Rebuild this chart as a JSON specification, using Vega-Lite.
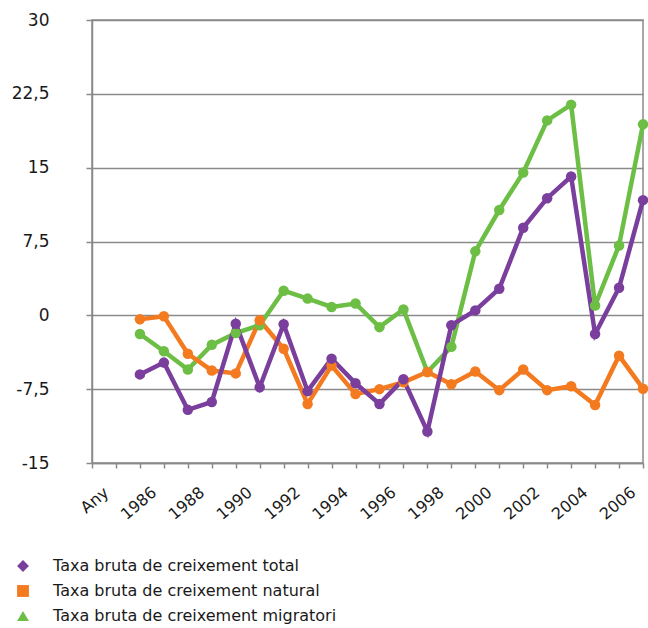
{
  "$schema": "https://vega.github.io/schema/vega-lite/v6.json",
  "autosize": {"type": "none"},
  "width": 551,
  "height": 443,
  "padding": {"left": 92, "top": 20, "right": 5, "bottom": 165},
  "background": "white",
  "config": {
    "font": "DejaVu Sans",
    "view": {"stroke": "#8a8a8a", "strokeWidth": 1.5},
    "axis": {"labelFont": "DejaVu Sans", "labelColor": "#1a1a1a", "domainColor": "#8a8a8a", "tickColor": "#8a8a8a", "domainWidth": 1.5, "tickWidth": 1.5}
  },
  "data": {"values": [
    {"year": 1985, "serie": "Taxa bruta de creixement migratori", "v": -1.9},
    {"year": 1986, "serie": "Taxa bruta de creixement migratori", "v": -3.65},
    {"year": 1987, "serie": "Taxa bruta de creixement migratori", "v": -5.5},
    {"year": 1988, "serie": "Taxa bruta de creixement migratori", "v": -3.0},
    {"year": 1989, "serie": "Taxa bruta de creixement migratori", "v": -1.8},
    {"year": 1990, "serie": "Taxa bruta de creixement migratori", "v": -1.0},
    {"year": 1991, "serie": "Taxa bruta de creixement migratori", "v": 2.5},
    {"year": 1992, "serie": "Taxa bruta de creixement migratori", "v": 1.7},
    {"year": 1993, "serie": "Taxa bruta de creixement migratori", "v": 0.85},
    {"year": 1994, "serie": "Taxa bruta de creixement migratori", "v": 1.2},
    {"year": 1995, "serie": "Taxa bruta de creixement migratori", "v": -1.2},
    {"year": 1996, "serie": "Taxa bruta de creixement migratori", "v": 0.6},
    {"year": 1997, "serie": "Taxa bruta de creixement migratori", "v": -5.75},
    {"year": 1998, "serie": "Taxa bruta de creixement migratori", "v": -3.2},
    {"year": 1999, "serie": "Taxa bruta de creixement migratori", "v": 6.5},
    {"year": 2000, "serie": "Taxa bruta de creixement migratori", "v": 10.7},
    {"year": 2001, "serie": "Taxa bruta de creixement migratori", "v": 14.5},
    {"year": 2002, "serie": "Taxa bruta de creixement migratori", "v": 19.8},
    {"year": 2003, "serie": "Taxa bruta de creixement migratori", "v": 21.4},
    {"year": 2004, "serie": "Taxa bruta de creixement migratori", "v": 1.0},
    {"year": 2005, "serie": "Taxa bruta de creixement migratori", "v": 7.1},
    {"year": 2006, "serie": "Taxa bruta de creixement migratori", "v": 19.4},
    {"year": 1985, "serie": "Taxa bruta de creixement natural", "v": -0.4},
    {"year": 1986, "serie": "Taxa bruta de creixement natural", "v": -0.1},
    {"year": 1987, "serie": "Taxa bruta de creixement natural", "v": -3.9},
    {"year": 1988, "serie": "Taxa bruta de creixement natural", "v": -5.6},
    {"year": 1989, "serie": "Taxa bruta de creixement natural", "v": -5.9},
    {"year": 1990, "serie": "Taxa bruta de creixement natural", "v": -0.5},
    {"year": 1991, "serie": "Taxa bruta de creixement natural", "v": -3.4},
    {"year": 1992, "serie": "Taxa bruta de creixement natural", "v": -9.0},
    {"year": 1993, "serie": "Taxa bruta de creixement natural", "v": -5.1},
    {"year": 1994, "serie": "Taxa bruta de creixement natural", "v": -8.0},
    {"year": 1995, "serie": "Taxa bruta de creixement natural", "v": -7.5},
    {"year": 1996, "serie": "Taxa bruta de creixement natural", "v": -6.8},
    {"year": 1997, "serie": "Taxa bruta de creixement natural", "v": -5.75},
    {"year": 1998, "serie": "Taxa bruta de creixement natural", "v": -7.0},
    {"year": 1999, "serie": "Taxa bruta de creixement natural", "v": -5.7},
    {"year": 2000, "serie": "Taxa bruta de creixement natural", "v": -7.6},
    {"year": 2001, "serie": "Taxa bruta de creixement natural", "v": -5.5},
    {"year": 2002, "serie": "Taxa bruta de creixement natural", "v": -7.6},
    {"year": 2003, "serie": "Taxa bruta de creixement natural", "v": -7.2},
    {"year": 2004, "serie": "Taxa bruta de creixement natural", "v": -9.1},
    {"year": 2005, "serie": "Taxa bruta de creixement natural", "v": -4.1},
    {"year": 2006, "serie": "Taxa bruta de creixement natural", "v": -7.45},
    {"year": 1985, "serie": "Taxa bruta de creixement total", "v": -6.0},
    {"year": 1986, "serie": "Taxa bruta de creixement total", "v": -4.8},
    {"year": 1987, "serie": "Taxa bruta de creixement total", "v": -9.6},
    {"year": 1988, "serie": "Taxa bruta de creixement total", "v": -8.8},
    {"year": 1989, "serie": "Taxa bruta de creixement total", "v": -0.85},
    {"year": 1990, "serie": "Taxa bruta de creixement total", "v": -7.3},
    {"year": 1991, "serie": "Taxa bruta de creixement total", "v": -0.9},
    {"year": 1992, "serie": "Taxa bruta de creixement total", "v": -7.7},
    {"year": 1993, "serie": "Taxa bruta de creixement total", "v": -4.4},
    {"year": 1994, "serie": "Taxa bruta de creixement total", "v": -6.9},
    {"year": 1995, "serie": "Taxa bruta de creixement total", "v": -9.0},
    {"year": 1996, "serie": "Taxa bruta de creixement total", "v": -6.5},
    {"year": 1997, "serie": "Taxa bruta de creixement total", "v": -11.8},
    {"year": 1998, "serie": "Taxa bruta de creixement total", "v": -1.0},
    {"year": 1999, "serie": "Taxa bruta de creixement total", "v": 0.5},
    {"year": 2000, "serie": "Taxa bruta de creixement total", "v": 2.7},
    {"year": 2001, "serie": "Taxa bruta de creixement total", "v": 8.9},
    {"year": 2002, "serie": "Taxa bruta de creixement total", "v": 11.9},
    {"year": 2003, "serie": "Taxa bruta de creixement total", "v": 14.1},
    {"year": 2004, "serie": "Taxa bruta de creixement total", "v": -1.9},
    {"year": 2005, "serie": "Taxa bruta de creixement total", "v": 2.8},
    {"year": 2006, "serie": "Taxa bruta de creixement total", "v": 11.7}
  ]},
  "encoding": {
    "x": {
      "field": "year", "type": "quantitative",
      "scale": {"domain": [1983, 2006], "nice": false, "zero": false},
      "axis": {
        "title": null,
        "values": [1983,1984,1985,1986,1987,1988,1989,1990,1991,1992,1993,1994,1995,1996,1997,1998,1999,2000,2001,2002,2003,2004,2005,2006],
        "labelExpr": "datum.value == 1984 ? 'Any' : (datum.value >= 1986 && datum.value % 2 == 0 ? '' + datum.value : '')",
        "labelAngle": -40,
        "labelAlign": "right",
        "labelBaseline": "middle",
        "labelFontSize": 16,
        "labelOverlap": false,
        "labelPadding": 22,
        "labelOffset": -10,
        "tickSize": 5,
        "grid": false
      }
    },
    "y": {
      "field": "v", "type": "quantitative",
      "scale": {"domain": [-15, 30], "nice": false, "zero": false},
      "axis": {
        "title": null,
        "values": [-15, -7.5, 0, 7.5, 15, 22.5, 30],
        "labelExpr": "replace(toString(datum.value), '.', ',')",
        "labelFontSize": 17,
        "labelPadding": 37,
        "tickSize": 6,
        "grid": true,
        "gridColor": "#8a8a8a",
        "gridWidth": 1.5
      }
    },
    "color": {
      "field": "serie", "type": "nominal",
      "scale": {
        "domain": ["Taxa bruta de creixement total", "Taxa bruta de creixement natural", "Taxa bruta de creixement migratori"],
        "range": ["#7A3E9D", "#F47A20", "#6CBE45"]
      },
      "legend": {
        "title": null,
        "orient": "none",
        "legendX": -77,
        "legendY": 538,
        "labelFont": "DejaVu Sans",
        "labelFontSize": 16,
        "labelColor": "#1a1a1a",
        "labelLimit": 0,
        "symbolSize": 140,
        "symbolStrokeWidth": 0,
        "rowPadding": 9,
        "labelOffset": 22,
        "encode": {
          "symbols": {
            "update": {
              "shape": {"signal": "datum.value == 'Taxa bruta de creixement total' ? 'diamond' : (datum.value == 'Taxa bruta de creixement natural' ? 'square' : 'triangle-up')"}
            }
          }
        }
      }
    }
  },
  "layer": [
    {"mark": {"type": "line", "strokeWidth": 4.5}},
    {"mark": {"type": "point", "shape": "circle", "filled": true, "opacity": 1, "size": 110}}
  ]
}
